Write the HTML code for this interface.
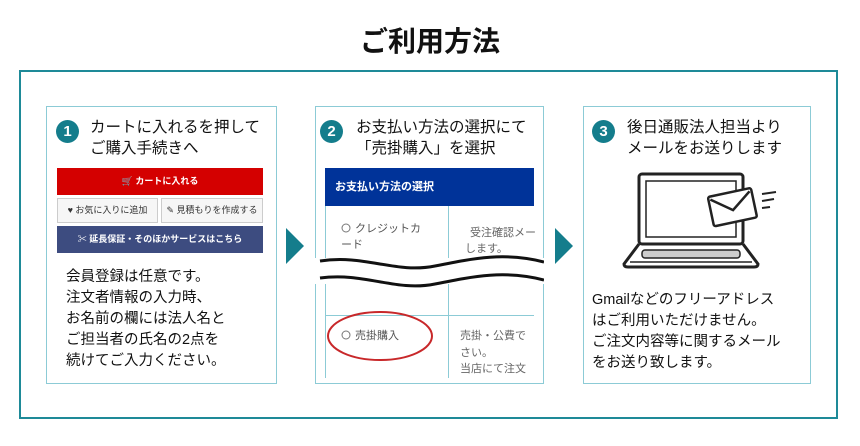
<!DOCTYPE html>
<html><head><meta charset="utf-8"><style>
*{margin:0;padding:0;box-sizing:border-box}
body{width:860px;height:446px;background:#fff;font-family:"Liberation Sans","Noto Sans CJK JP",sans-serif;position:relative;overflow:hidden;color:#111}
.a{position:absolute}
.title{left:0;width:860px;top:20px;text-align:center;font-size:28px;font-weight:bold}
.frame{left:19px;top:70px;width:819px;height:349px;border:2px solid #1e8a98}
.panel{border:1px solid #8ccbd6;top:106px;height:278px;background:#fff}
.num{width:23px;height:23px;border-radius:50%;background:#147d8c;color:#fff;font-weight:bold;font-size:15px;text-align:center;line-height:23px}
.h{font-size:15.5px;line-height:21px;font-weight:normal}
.t{font-size:14.5px;line-height:21px}
.btn{font-size:9px;font-weight:bold;text-align:center}
</style></head><body>
<div class="a title">ご利用方法</div>
<div class="a frame"></div>

<div class="a panel" style="left:46px;width:231px"></div>
<div class="a num" style="left:56px;top:120px">1</div>
<div class="a h" style="left:90px;top:117px">カートに入れるを押して<br>ご購入手続きへ</div>
<div class="a btn" style="left:57px;top:168px;width:206px;height:27px;background:#d40000;color:#fff;line-height:27px">🛒 カートに入れる</div>
<div class="a btn" style="left:57px;top:198px;width:101px;height:25px;background:#f6f6f6;border:1px solid #ccc;line-height:23px;color:#333;font-weight:normal">♥ お気に入りに追加</div>
<div class="a btn" style="left:161px;top:198px;width:102px;height:25px;background:#f6f6f6;border:1px solid #ccc;line-height:23px;color:#333;font-weight:normal">✎ 見積もりを作成する</div>
<div class="a btn" style="left:57px;top:226px;width:206px;height:27px;background:#3d4c80;color:#fff;line-height:27px">✂ 延長保証・そのほかサービスはこちら</div>
<div class="a t" style="left:66px;top:267px">会員登録は任意です。<br>注文者情報の入力時、<br>お名前の欄には法人名と<br>ご担当者の氏名の2点を<br>続けてご入力ください。</div>

<svg class="a" style="left:286px;top:228px" width="20" height="36"><polygon points="0,0 18,18 0,36" fill="#147d8c"/></svg>
<svg class="a" style="left:555px;top:228px" width="20" height="36"><polygon points="0,0 18,18 0,36" fill="#147d8c"/></svg>

<div class="a panel" style="left:315px;width:229px"></div>
<div class="a num" style="left:320px;top:120px">2</div>
<div class="a h" style="left:356px;top:117px">お支払い方法の選択にて<br>「売掛購入」を選択</div>
<div class="a" style="left:325px;top:168px;width:209px;height:38px;background:#003399;color:#fff;font-size:11px;font-weight:bold;line-height:38px;padding-left:10px">お支払い方法の選択</div>
<svg class="a" style="left:315px;top:206px" width="229" height="178">
<line x1="10.5" y1="0" x2="10.5" y2="172" stroke="#8ccbd6"/>
<line x1="133.5" y1="0" x2="133.5" y2="172" stroke="#8ccbd6"/>
<line x1="10" y1="109.5" x2="219" y2="109.5" stroke="#8ccbd6"/>
<rect x="0" y="52" width="229" height="26" fill="#fff"/>
<path d="M5,55 C50,48 80,68 120,60 S190,46 229,56" stroke="#111" stroke-width="3" fill="none"/>
<path d="M5,72 C50,66 80,86 120,78 S190,64 229,74" stroke="#111" stroke-width="3" fill="none"/>
<circle cx="31" cy="22" r="4" stroke="#777" fill="none"/>
<text x="40" y="26" font-size="11" fill="#555">クレジットカ</text>
<text x="26" y="42" font-size="11" fill="#555">ード</text>
<text x="155" y="30" font-size="11" fill="#666">受注確認メー</text>
<text x="150" y="46" font-size="11" fill="#666">します。</text>
<circle cx="31" cy="129" r="4" stroke="#777" fill="none"/>
<text x="40" y="133" font-size="11" fill="#555">売掛購入</text>
<text x="145" y="133" font-size="11" fill="#666">売掛・公費で</text>
<text x="145" y="150" font-size="11" fill="#666">さい。</text>
<text x="145" y="166" font-size="11" fill="#666">当店にて注文</text>
<ellipse cx="65" cy="130" rx="52" ry="24" stroke="#c8282a" stroke-width="2" fill="none"/>
</svg>

<div class="a panel" style="left:583px;width:228px"></div>
<div class="a num" style="left:592px;top:120px">3</div>
<div class="a h" style="left:627px;top:117px">後日通販法人担当より<br>メールをお送りします</div>
<svg class="a" style="left:620px;top:170px" width="160" height="100">
<rect x="19" y="4" width="104" height="70" rx="3" fill="none" stroke="#222" stroke-width="3"/>
<rect x="26" y="11" width="90" height="56" fill="none" stroke="#222" stroke-width="1.5"/>
<path d="M19,74 L4,94 Q4,97 8,97 L134,97 Q138,97 138,94 L123,74" fill="none" stroke="#222" stroke-width="3"/>
<rect x="22" y="80" width="98" height="8" rx="3" fill="#ccc" stroke="#222" stroke-width="1.5"/>
<line x1="10" y1="92" x2="132" y2="92" stroke="#222" stroke-width="1.5"/>
<g transform="rotate(-12 113 35)"><rect x="90" y="22" width="44" height="30" rx="2" fill="#fff" stroke="#222" stroke-width="2.5"/><path d="M92,25 L112,40 L132,25" fill="none" stroke="#222" stroke-width="2.5"/></g>
<line x1="142" y1="24" x2="156" y2="22" stroke="#222" stroke-width="2"/>
<line x1="142" y1="31" x2="154" y2="29" stroke="#222" stroke-width="2"/>
<line x1="142" y1="38" x2="150" y2="37" stroke="#222" stroke-width="2"/>
</svg>
<div class="a t" style="left:592px;top:290px">Gmailなどのフリーアドレス<br>はご利用いただけません。<br>ご注文内容等に関するメール<br>をお送り致します。</div>
</body></html>
